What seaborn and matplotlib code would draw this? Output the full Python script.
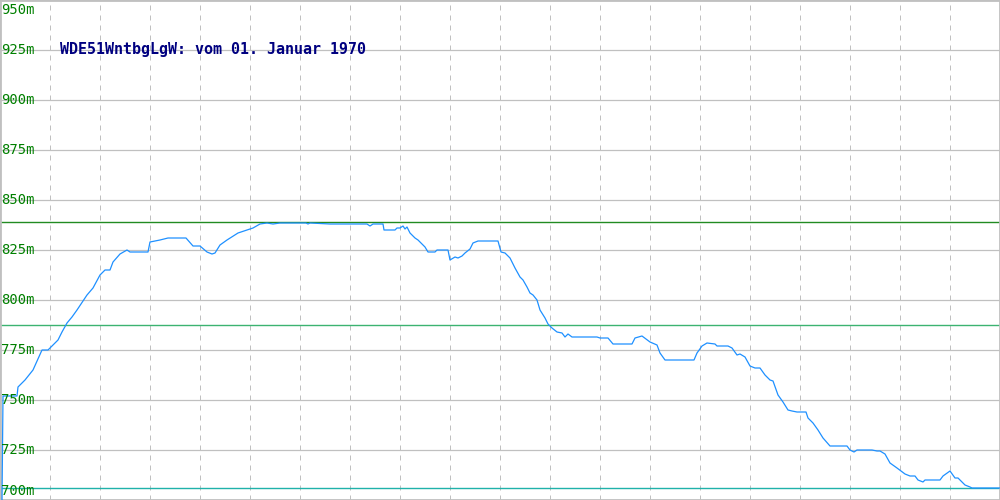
import matplotlib
matplotlib.use("Agg")
import matplotlib.pyplot as plt
import seaborn as sns

# Zeitachse (Messpunkte) und Wasserstand in m
zeit = [2, 3, 17, 18, 25, 33, 42, 48, 58, 62, 67, 72, 77, 87, 93, 100, 105, 110,
        113, 120, 127, 130, 148, 150, 160, 168, 186, 193, 200, 207, 212, 215, 220,
        227, 238, 247, 253, 260, 267, 273, 280, 306, 308, 310, 330, 367, 370, 373,
        383, 384, 395, 397, 400, 403, 405, 407, 410, 415, 418, 422, 425, 428, 435,
        437, 448, 450, 455, 458, 462, 465, 470, 473, 478, 498, 501, 505, 510, 515,
        520, 523, 527, 530, 533, 537, 540, 545, 548, 552, 557, 562, 565, 568, 572,
        577, 597, 600, 608, 613, 632, 635, 642, 650, 657, 660, 665, 694, 697, 702,
        707, 715, 717, 728, 732, 737, 740, 745, 750, 755, 760, 765, 770, 773, 778,
        783, 788, 792, 797, 806, 808, 813, 818, 823, 830, 847, 850, 854, 857, 872,
        877, 880, 885, 890, 897, 905, 910, 915, 918, 923, 925, 940, 943, 950, 955,
        958, 965, 970, 972, 1000]
hoehe = [700, 752, 752, 756.5, 760, 765, 775, 775, 780, 784, 788.5, 791.5, 795,
         802.5, 806, 812.5, 815, 815, 819, 823, 825, 824, 824, 829, 830, 831, 831,
         827, 827, 824, 823, 823.5, 827.5, 830, 833.5, 835, 836, 838, 838.5, 838,
         838.5, 838.5, 838, 838.5, 838, 838, 837, 838, 838, 835, 835, 836, 836, 837,
         835.5, 836.5, 833.5, 831, 830, 828, 826.5, 824, 824, 825, 825, 820, 821.5,
         821, 822, 823.5, 825.5, 828.5, 829.5, 829.5, 824, 823.5, 821, 816, 811.5,
         810, 806.5, 803.5, 802.5, 800, 795, 791, 788, 786, 784, 783.5, 781.5, 783,
         781.5, 781.5, 781.5, 781, 781, 778, 778, 781, 782, 779, 777.5, 773.5, 770,
         770, 773.5, 777, 778.5, 778, 777, 777, 776, 772.5, 773, 771.5, 767, 766,
         766, 762.5, 760, 759.5, 752.5, 749, 745, 744.5, 744, 744, 741, 738.5, 735,
         731, 727, 727, 725, 724, 725, 725, 724.5, 724.5, 723, 718.5, 716, 713, 712,
         712, 710, 709, 710, 710, 712, 714.5, 711, 711, 707.5, 706.5, 706, 706]

y_ticks = [700, 725, 750, 775, 800, 825, 850, 875, 900, 925, 950]
y_labels = ["700m", "725m", "750m", "775m", "800m", "825m", "850m", "875m",
            "900m", "925m", "950m"]
x_grid = list(range(50, 1000, 50))

# Grenzwerte
grenzen = [838.8, 787.3, 706]
grenz_farben = ["#228b22", "#3cb371", "#20b2aa"]

titel = "WDE51WntbgLgW: vom 01. Januar 1970"

sns.set_style("white")
plt.rcParams["font.family"] = ["DejaVu Sans Mono"]

fig = plt.figure(figsize=(10, 5), dpi=100)
ax = fig.add_axes([0, 0, 1, 1])
ax.set_xlim(0, 1000)
ax.set_ylim(700, 950)

for y in y_ticks:
    ax.axhline(y, color="#c0c0c0", lw=0.9, zorder=1)
for x in x_grid:
    ax.axvline(x, color="#c0c0c0", lw=0.72, linestyle=(0, (5, 5)), zorder=1)

for y, c in zip(grenzen, grenz_farben):
    ax.axhline(y, color=c, lw=1.0, zorder=2)

sns.lineplot(x=zeit, y=hoehe, ax=ax, color="#1e90ff", lw=0.9,
             estimator=None, sort=False, zorder=3)

for y, lab in zip(y_ticks, y_labels):
    va = "center"
    yy = y
    if y == 950:
        va = "top"
        yy = 948.5
    elif y == 700:
        va = "bottom"
        yy = 701
    ax.text(1, yy, lab, color="#008000", fontsize=10, va=va, ha="left", zorder=4)

ax.text(60, 925.5, titel, color="#000080", fontsize=10.8, fontweight="bold",
        va="center", ha="left", zorder=4)

ax.set_xticks([])
ax.set_yticks([])
ax.set_xlabel("")
ax.set_ylabel("")
for s in ax.spines.values():
    s.set_visible(True)
    s.set_color("#c0c0c0")
    s.set_linewidth(2)

fig.savefig("out.png", dpi=100)
plt.close(fig)
